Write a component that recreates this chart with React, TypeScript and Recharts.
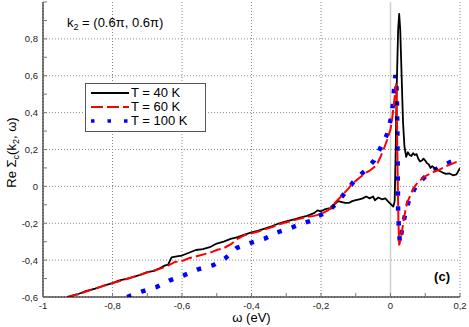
import React from 'react';
import { LineChart, Line, XAxis, YAxis, CartesianGrid, Legend, ReferenceLine, ReferenceDot } from 'recharts';

// omega (eV) and Re Sigma_c for each temperature
const omega40 = [
  -0.93, -0.9, -0.88, -0.85, -0.82, -0.8, -0.78, -0.75, -0.72, -0.7, -0.68, -0.665, -0.65, -0.64, -0.63, -0.615,
  -0.6, -0.58, -0.56, -0.54, -0.52, -0.5, -0.48, -0.46, -0.44, -0.42, -0.4, -0.38, -0.36, -0.34, -0.32, -0.3,
  -0.28, -0.26, -0.24, -0.22, -0.21, -0.2, -0.19, -0.18, -0.17, -0.16, -0.15, -0.14, -0.13, -0.12, -0.11, -0.1,
  -0.09, -0.08, -0.07, -0.06, -0.05, -0.045, -0.035, -0.025, -0.015, -0.005, 0.003, 0.008, 0.012, 0.015, 0.018,
  0.022, 0.025, 0.028, 0.032, 0.036, 0.04, 0.045, 0.05, 0.055, 0.06, 0.065, 0.07, 0.075, 0.08, 0.085, 0.09, 0.095,
  0.1, 0.105, 0.11, 0.115, 0.12, 0.13, 0.14, 0.15, 0.16, 0.17, 0.18, 0.19, 0.2,
];
const re40 = [
  -0.6, -0.585, -0.57, -0.555, -0.535, -0.525, -0.51, -0.497, -0.48, -0.465, -0.458, -0.445, -0.43, -0.425, -0.385, -0.38,
  -0.375, -0.36, -0.345, -0.34, -0.33, -0.31, -0.3, -0.285, -0.275, -0.262, -0.25, -0.24, -0.228, -0.215, -0.2, -0.19,
  -0.18, -0.17, -0.16, -0.145, -0.13, -0.135, -0.125, -0.12, -0.12, -0.095, -0.08, -0.085, -0.09, -0.09, -0.08, -0.075,
  -0.07, -0.065, -0.055, -0.065, -0.055, -0.075, -0.06, -0.07, -0.065, -0.085, -0.1, -0.11, -0.08, 0.2, 0.55,
  0.85, 0.935, 0.85, 0.6, 0.35, 0.22, 0.16, 0.185, 0.17, 0.165, 0.18, 0.17, 0.175, 0.15, 0.135, 0.14, 0.15,
  0.14, 0.125, 0.12, 0.1, 0.11, 0.095, 0.085, 0.075, 0.068, 0.07, 0.06, 0.065, 0.1,
];

const omega60 = [
  -0.93, -0.9, -0.85, -0.8, -0.75, -0.7, -0.66, -0.64, -0.62, -0.6, -0.58, -0.55, -0.52, -0.5, -0.48, -0.46, -0.44,
  -0.42, -0.4, -0.38, -0.36, -0.34, -0.32, -0.3, -0.28, -0.26, -0.24, -0.22, -0.2, -0.18, -0.17, -0.16, -0.15, -0.14,
  -0.13, -0.12, -0.11, -0.1, -0.09, -0.08, -0.07, -0.06, -0.05, -0.04, -0.03, -0.02, -0.01, 0.0, 0.005, 0.01, 0.014,
  0.017, 0.019, 0.021, 0.023, 0.025, 0.03, 0.035, 0.04, 0.045, 0.05, 0.06, 0.07, 0.08, 0.1, 0.12, 0.14, 0.16, 0.18, 0.2,
];
const re60 = [
  -0.6, -0.585, -0.555, -0.525, -0.497, -0.467, -0.445, -0.43, -0.41, -0.405, -0.39, -0.375, -0.36, -0.345, -0.335, -0.315, -0.285,
  -0.265, -0.255, -0.245, -0.232, -0.22, -0.205, -0.195, -0.185, -0.175, -0.165, -0.16, -0.15, -0.13, -0.115, -0.09, -0.07, -0.05,
  -0.03, -0.01, 0.015, 0.03, 0.045, 0.06, 0.075, 0.085, 0.1, 0.115, 0.155, 0.2, 0.25, 0.31, 0.37, 0.45, 0.52,
  0.56, 0.3, 0.0, -0.2, -0.32, -0.28, -0.22, -0.16, -0.11, -0.08, -0.035, 0.0, 0.025, 0.055, 0.075, 0.09, 0.11, 0.125, 0.14,
];

const omega100 = [
  -0.758, -0.716, -0.674, -0.635, -0.595, -0.554, -0.51, -0.475, -0.442, -0.402, -0.362, -0.327, -0.292, -0.252, -0.225,
  -0.214, -0.181, -0.152, -0.128, -0.1, -0.073, -0.047, -0.028, -0.009, 0.001, 0.007, 0.01, 0.014, 0.018, 0.02, 0.021,
  0.022, 0.024, 0.027, 0.034, 0.043, 0.054, 0.074, 0.107, 0.145, 0.19, 0.2,
];
const re100 = [
  -0.6, -0.571, -0.546, -0.51, -0.483, -0.45, -0.427, -0.389, -0.333, -0.306, -0.283, -0.25, -0.229, -0.2, -0.185,
  -0.166, -0.139, -0.086, -0.027, 0.04, 0.086, 0.14, 0.212, 0.285, 0.366, 0.443, 0.52, 0.605, 0.515, 0.27, 0.027,
  -0.139, -0.22, -0.306, -0.225, -0.144, -0.069, 0.004, 0.066, 0.11, 0.146, 0.155,
];

const xTicks = [-1, -0.9, -0.8, -0.7, -0.6, -0.5, -0.4, -0.3, -0.2, -0.1, 0, 0.1, 0.2];
const xLabelled = [-1, -0.8, -0.6, -0.4, -0.2, 0, 0.2];
const yTicks = [-0.6, -0.5, -0.4, -0.3, -0.2, -0.1, 0, 0.1, 0.2, 0.3, 0.4, 0.5, 0.6, 0.7, 0.8, 0.9, 1];
const yLabelled = [-0.6, -0.4, -0.2, 0, 0.2, 0.4, 0.6, 0.8];

const zip = (xs: number[], ys: number[]) => xs.map((x, i) => ({ x, y: ys[i] }));
const data40 = zip(omega40, re40);
const data60 = zip(omega60, re60);
const data100 = zip(omega100, re100);

const FONT = "'Liberation Sans', Arial, Helvetica, sans-serif";
const has = (list: number[], v: number) => list.some((m) => Math.abs(m - v) < 1e-6);
const fmt = (v: number) => {
  const r = Math.round(v * 10) / 10;
  return Number.isInteger(r) ? String(r) : r.toFixed(1).replace('.', ',');
};

const legendItems = [
  { name: 'T = 40 K', color: '#000000', dash: undefined as string | undefined, width: 2 },
  { name: 'T = 60 K', color: '#ff0000', dash: '12 4', width: 2 },
  { name: 'T = 100 K', color: '#0000ff', dash: '3.5 13', width: 3.5 },
];

const BottomTick = (p: any) => {
  const v = p.payload.value;
  return (
    <g>
      <line x1={p.x} x2={p.x} y1={p.y} y2={p.y - 4} stroke="#777" />
      {has(xLabelled, v) && (
        <text x={p.x} y={p.y + 12} textAnchor="middle" fontSize={9.5} fill="#222" fontFamily={FONT}>
          {fmt(v)}
        </text>
      )}
    </g>
  );
};
const TopTick = (p: any) => <line x1={p.x} x2={p.x} y1={p.y} y2={p.y + 4} stroke="#777" />;
const LeftTick = (p: any) => {
  const v = p.payload.value;
  return (
    <g>
      <line x1={p.x} x2={p.x + 4} y1={p.y} y2={p.y} stroke="#777" />
      {has(yLabelled, v) && (
        <text x={p.x - 5} y={p.y + 3.5} textAnchor="end" fontSize={9.5} fill="#222" fontFamily={FONT}>
          {fmt(v)}
        </text>
      )}
    </g>
  );
};
const RightTick = (p: any) => <line x1={p.x} x2={p.x - 4} y1={p.y} y2={p.y} stroke="#777" />;

const XTitle = ({ viewBox }: any) => (
  <text x={viewBox.x + viewBox.width / 2} y={viewBox.y + 25} textAnchor="middle" fontSize={13} fontFamily={FONT} fill="#000">
    ω (eV)
  </text>
);

const YTitle = ({ viewBox }: any) => {
  const cx = viewBox.x + 16;
  const cy = viewBox.y + viewBox.height / 2 + 3;
  return (
    <text x={cx} y={cy} transform={`rotate(-90 ${cx} ${cy})`} textAnchor="middle" fontSize={13} fontFamily={FONT} fill="#000">
      <tspan>Re Σ</tspan>
      <tspan fontSize={9} dy={3}>c</tspan>
      <tspan dy={-3}>(k</tspan>
      <tspan fontSize={9} dy={3}>2</tspan>
      <tspan dy={-3}>, ω)</tspan>
    </text>
  );
};

// anchored at the plot's top-left corner
const PanelTitle = ({ viewBox }: any) => (
  <text x={viewBox.x + 24} y={viewBox.y + 25} fontSize={13} fontFamily={FONT} fill="#000">
    <tspan>k</tspan>
    <tspan fontSize={9} dy={3}>2</tspan>
    <tspan dy={-3}> = (0.6π, 0.6π)</tspan>
  </text>
);

// anchored at the plot's bottom-right corner
const PanelTag = ({ viewBox }: any) => (
  <text x={viewBox.x - 10} y={viewBox.y - 16} textAnchor="end" fontSize={13} fontWeight="bold" fontFamily={FONT} fill="#000">
    (c)
  </text>
);

const LegendBox = () => (
  <div
    style={{
      border: '1px solid #555',
      background: '#fff',
      width: 119,
      padding: '2px 0 3px 0',
      fontFamily: FONT,
      fontSize: 13,
      lineHeight: '14px',
      color: '#000',
    }}
  >
    {legendItems.map((it) => (
      <div key={it.name} style={{ display: 'flex', alignItems: 'center', height: 14 }}>
        <svg width={45} height={14}>
          <line x1={5} x2={43} y1={7} y2={7} stroke={it.color} strokeWidth={it.width} strokeDasharray={it.dash} />
        </svg>
        <span>{it.name}</span>
      </div>
    ))}
  </div>
);

export default function App() {
  return (
    <div style={{ position: 'absolute', left: 0, top: 0 }}>
      <LineChart width={469} height={327} margin={{ top: 2, right: 9, bottom: 0, left: 0 }}>
        <CartesianGrid
          stroke="#888"
          strokeDasharray="1 2"
          verticalValues={xLabelled}
          horizontalValues={yLabelled}
        />
        <ReferenceLine x={0} stroke="#cfcfcf" strokeWidth={1.5} />
        <XAxis
          dataKey="x"
          type="number"
          domain={[-1, 0.2]}
          ticks={xTicks}
          interval={0}
          allowDataOverflow
          height={30}
          tickSize={0}
          tickMargin={0}
          tick={<BottomTick />}
          axisLine={{ stroke: '#000' }}
          label={<XTitle />}
        />
        <XAxis
          xAxisId="top"
          orientation="top"
          dataKey="x"
          type="number"
          domain={[-1, 0.2]}
          ticks={xTicks}
          interval={0}
          allowDataOverflow
          height={0}
          tickSize={0}
          tickMargin={0}
          tick={<TopTick />}
          axisLine={{ stroke: '#000' }}
        />
        <YAxis
          type="number"
          domain={[-0.6, 1]}
          ticks={yTicks}
          interval={0}
          allowDataOverflow
          width={43}
          tickSize={0}
          tickMargin={0}
          tick={<LeftTick />}
          axisLine={{ stroke: '#000' }}
          label={<YTitle />}
        />
        <YAxis
          yAxisId="right"
          orientation="right"
          type="number"
          domain={[-0.6, 1]}
          ticks={yTicks}
          interval={0}
          allowDataOverflow
          width={0}
          tickSize={0}
          tickMargin={0}
          tick={<RightTick />}
          axisLine={{ stroke: '#000' }}
        />
        <ReferenceDot x={-1} y={1} r={0.01} fill="none" stroke="none" ifOverflow="visible" label={<PanelTitle />} />
        <ReferenceDot x={0.2} y={-0.6} r={0.01} fill="none" stroke="none" ifOverflow="visible" label={<PanelTag />} />
        <Legend
          layout="vertical"
          align="center"
          verticalAlign="middle"
          wrapperStyle={{ left: 85, top: 83, width: 'auto', height: 'auto' }}
          content={<LegendBox />}
        />
        <Line
          data={data100}
          dataKey="y"
          name="T = 100 K"
          stroke="#0000ff"
          strokeWidth={4.5}
          strokeDasharray="4.5 10.5"
          dot={false}
          activeDot={false}
          isAnimationActive={false}
        />
        <Line
          data={data40}
          dataKey="y"
          name="T = 40 K"
          stroke="#000000"
          strokeWidth={1.8}
          strokeLinejoin="round"
          dot={false}
          activeDot={false}
          isAnimationActive={false}
        />
        <Line
          data={data60}
          dataKey="y"
          name="T = 60 K"
          stroke="#ff0000"
          strokeWidth={2}
          strokeDasharray="11 4"
          dot={false}
          activeDot={false}
          isAnimationActive={false}
        />
      </LineChart>
    </div>
  );
}
